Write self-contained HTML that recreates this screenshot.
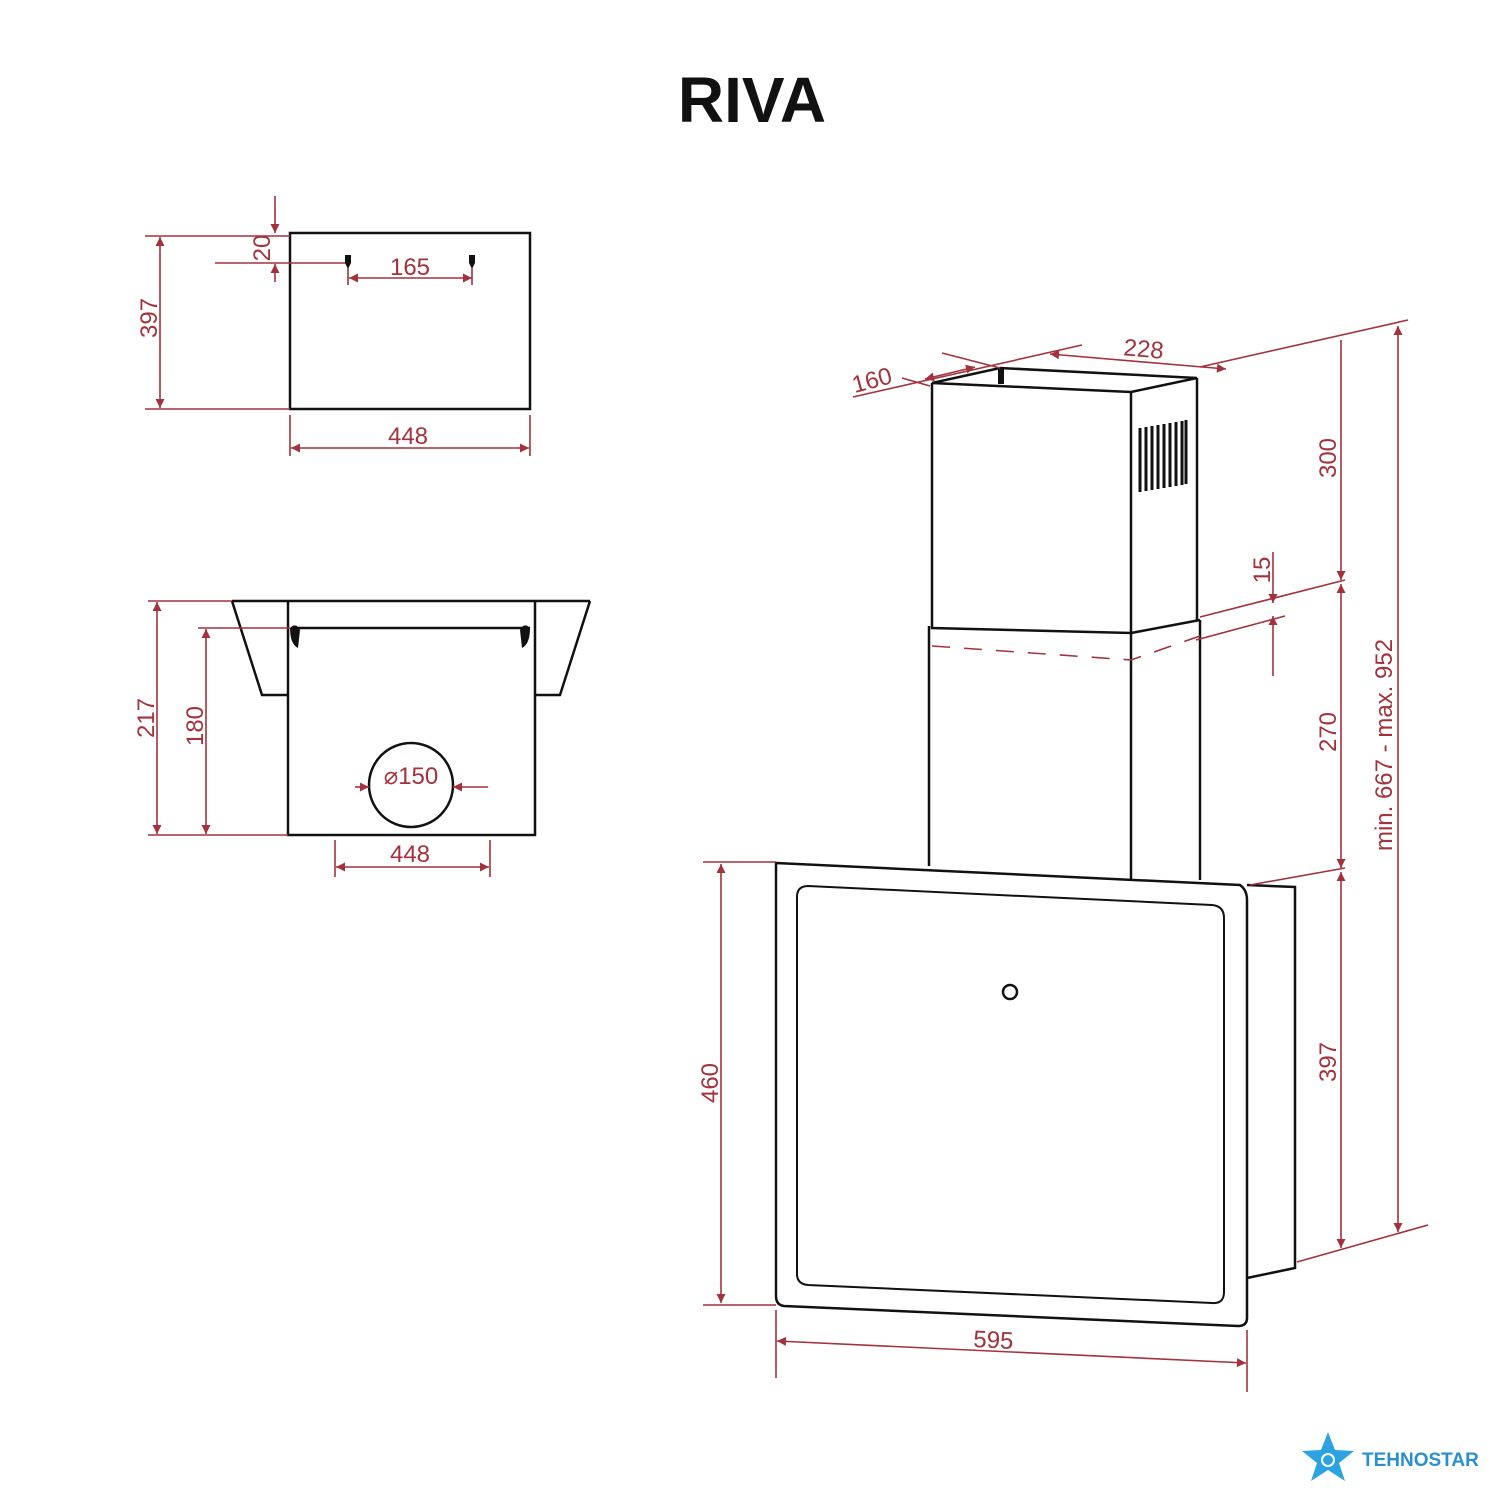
<!DOCTYPE html>
<html><head><meta charset="utf-8"><style>body{margin:0;background:#fff}svg{display:block}</style></head><body>
<svg width="1500" height="1500" viewBox="0 0 1500 1500" xmlns="http://www.w3.org/2000/svg">
<defs>
<marker id="a" viewBox="0 0 10 10" refX="10" refY="5" markerWidth="14" markerHeight="9" orient="auto-start-reverse" markerUnits="userSpaceOnUse"><path d="M0,0L10,5L0,10z" fill="#a3323c"/></marker>
</defs>
<rect width="1500" height="1500" fill="#fff"/>
<text x="752" y="122" text-anchor="middle" font-family="Liberation Sans, sans-serif" font-weight="bold" font-size="64" fill="#111">RIVA</text>
<g fill="none" stroke="#111" stroke-width="2.5">
<rect x="290" y="233" width="240" height="176"/>
<path d="M232,601H590M232,601L262,695H288M590,601L560,695H535M288,601V835H535V601M295,628H530"/>
<circle cx="411" cy="785" r="42"/>
<path d="M932,383L1131,392L1197,378L1000,368Z M932,383V628L1131,633V392 M1197,378V620 M1131,633L1200,620"/>
<path d="M929,626V866 M1131,633V880 M1200,620V880"/>
<path d="M776,863L1240,885Q1247,890 1247,900L1247,1318Q1247,1326 1238,1326L784,1306Q776,1305 776,1296Z"/>
<path d="M808,886L1212,905Q1224,906 1224,918L1224,1292Q1224,1304 1212,1303L808,1285Q797,1284 797,1274V897Q797,886 808,886Z" stroke-width="2"/>
<path d="M1247,885L1295,887V1268L1247,1278"/>
<circle cx="1010" cy="992" r="7"/>
</g>
<g fill="#111">
<path d="M345,255h6v8l-3,6l-3,-6z"/><path d="M469,255h6v8l-3,6l-3,-6z"/>
<path d="M290,628q6,-6 10,2l-2,18q-8,-4 -8,-20z"/><path d="M530,628q-6,-6 -10,2l2,18q8,-4 8,-20z"/>
<g stroke="#111" stroke-width="3"><path d="M1140,428V492M1146,427V491M1152,426V490M1158,425V489M1164,424V488M1170,423V487M1176,422V486M1182,421V485M1186,420V484"/></g>
<rect x="998" y="368" width="6" height="16"/>
</g>
<g stroke="#a3323c" stroke-width="1.6" fill="none">
<line x1="145" y1="236" x2="290" y2="236"/><line x1="145" y1="409" x2="290" y2="409"/>
<line x1="160" y1="237" x2="160" y2="408" marker-start="url(#a)" marker-end="url(#a)"/>
<line x1="215" y1="263" x2="345" y2="263"/>
<line x1="275" y1="196" x2="275" y2="233" marker-end="url(#a)"/><line x1="275" y1="282" x2="275" y2="264" marker-end="url(#a)"/>
<line x1="349" y1="278" x2="472" y2="278" marker-start="url(#a)" marker-end="url(#a)"/>
<line x1="348" y1="268" x2="348" y2="285"/><line x1="472" y1="268" x2="472" y2="285"/>
<line x1="290" y1="415" x2="290" y2="456"/><line x1="530" y1="415" x2="530" y2="456"/>
<line x1="291" y1="448" x2="529" y2="448" marker-start="url(#a)" marker-end="url(#a)"/>
<line x1="148" y1="601" x2="232" y2="601"/><line x1="148" y1="835" x2="288" y2="835"/><line x1="198" y1="628" x2="290" y2="628"/>
<line x1="157" y1="602" x2="157" y2="834" marker-start="url(#a)" marker-end="url(#a)"/>
<line x1="206" y1="629" x2="206" y2="834" marker-start="url(#a)" marker-end="url(#a)"/>
<line x1="335" y1="840" x2="335" y2="877"/><line x1="490" y1="840" x2="490" y2="877"/>
<line x1="336" y1="867" x2="489" y2="867" marker-start="url(#a)" marker-end="url(#a)"/>
<line x1="355" y1="787" x2="369" y2="787" marker-end="url(#a)"/><line x1="488" y1="787" x2="453" y2="787" marker-end="url(#a)"/>
<path d="M932,646L1131,660L1200,636" stroke-dasharray="18,14"/>
<line x1="703" y1="862" x2="776" y2="862"/><line x1="703" y1="1305" x2="776" y2="1305"/>
<line x1="721" y1="864" x2="721" y2="1303" marker-start="url(#a)" marker-end="url(#a)"/>
<line x1="776" y1="1310" x2="776" y2="1378"/><line x1="1247" y1="1330" x2="1247" y2="1392"/>
<line x1="777" y1="1341" x2="1246" y2="1363" marker-start="url(#a)" marker-end="url(#a)"/>
<line x1="1200" y1="367" x2="1408" y2="320"/><line x1="1200" y1="617" x2="1345" y2="580"/><line x1="1196" y1="640" x2="1285" y2="616"/>
<line x1="1250" y1="885" x2="1345" y2="868"/><line x1="1297" y1="1262" x2="1428" y2="1225"/>
<line x1="1341" y1="340" x2="1341" y2="580" marker-end="url(#a)"/>
<line x1="1341" y1="584" x2="1341" y2="868" marker-start="url(#a)" marker-end="url(#a)"/>
<line x1="1341" y1="872" x2="1341" y2="1248" marker-start="url(#a)" marker-end="url(#a)"/>
<line x1="1398" y1="326" x2="1398" y2="1232" marker-start="url(#a)" marker-end="url(#a)"/>
<line x1="1273" y1="552" x2="1273" y2="603" marker-end="url(#a)"/><line x1="1273" y1="676" x2="1273" y2="616" marker-end="url(#a)"/>
<line x1="853" y1="397" x2="1082" y2="345"/><line x1="902" y1="378" x2="930" y2="386"/><line x1="942" y1="353" x2="1000" y2="368"/>
<line x1="925" y1="379" x2="975" y2="367" marker-start="url(#a)" marker-end="url(#a)"/>
<line x1="1050" y1="354" x2="1226" y2="369" marker-start="url(#a)" marker-end="url(#a)"/>
</g>
<g fill="#a3323c" font-family="Liberation Sans, sans-serif" font-size="24">
<text x="410" y="275" text-anchor="middle">165</text>
<text transform="translate(270,248) rotate(-90)" text-anchor="middle">20</text>
<text transform="translate(157,318) rotate(-90)" text-anchor="middle">397</text>
<text x="408" y="444" text-anchor="middle">448</text>
<text transform="translate(154,718) rotate(-90)" text-anchor="middle">217</text>
<text transform="translate(203,726) rotate(-90)" text-anchor="middle">180</text>
<text x="411" y="784" text-anchor="middle">⌀150</text>
<text x="410" y="862" text-anchor="middle">448</text>
<text transform="translate(718,1083) rotate(-90)" text-anchor="middle">460</text>
<text transform="translate(993,1348) rotate(2.7)" text-anchor="middle">595</text>
<text transform="translate(1336,458) rotate(-90)" text-anchor="middle">300</text>
<text transform="translate(1336,732) rotate(-90)" text-anchor="middle">270</text>
<text transform="translate(1336,1062) rotate(-90)" text-anchor="middle">397</text>
<text transform="translate(1392,745) rotate(-90)" text-anchor="middle">min. 667 - max. 952</text>
<text transform="translate(1270,570) rotate(-90)" text-anchor="middle">15</text>
<text transform="translate(874,388) rotate(-15)" text-anchor="middle">160</text>
<text transform="translate(1143,357) rotate(5)" text-anchor="middle">228</text>
</g>
<g>
<path d="M1328,1432L1335,1450L1354,1451L1339,1463L1345,1481L1328,1470L1311,1481L1317,1463L1302,1451L1321,1450Z" fill="#2aa3e0"/>
<circle cx="1328" cy="1460" r="6" fill="none" stroke="#fff" stroke-width="2"/>
<text x="1362" y="1466" font-family="Liberation Sans, sans-serif" font-weight="bold" font-size="19" fill="#2a8fd0">TEHNOSTAR</text>
</g>
</svg>
</body></html>
